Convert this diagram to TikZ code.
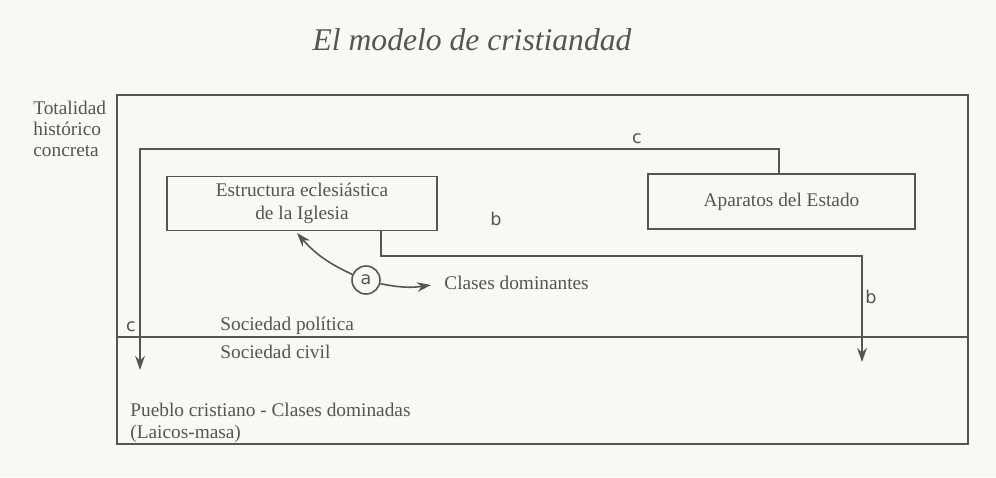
\documentclass[tikz,border=0pt]{standalone}
\usepackage{fontspec}
\setmainfont{Liberation Serif}
\newfontfamily\letterfont{DejaVu Sans}
\usetikzlibrary{arrows.meta}
\definecolor{ink}{RGB}{85,85,85}
\definecolor{paper}{RGB}{248,248,245}
\begin{document}
\begin{tikzpicture}[x=0.02cm,y=-0.02cm,
  every node/.style={text=ink},
  line/.style={draw=ink, line width=0.9pt},
  boxnode/.style={line, rectangle, minimum width=270*0.02cm, minimum height=54*0.02cm, align=center, font=\fontsize{11}{13}\selectfont},
  lbl/.style={font=\fontsize{11}{13}\selectfont, anchor=west, align=left, inner sep=0pt},
  letter/.style={font=\letterfont\fontsize{10}{12}\selectfont, inner sep=1pt},
  arr/.style={line, -{Stealth[length=8pt,width=5.5pt]}}]
\fill[paper] (0,0) rectangle (996,477);
\useasboundingbox (0,0) rectangle (996,477);
% title
\node (title) at (472,40) {\fontsize{18}{22}\selectfont\itshape El modelo de cristiandad};
% frame
\draw[line] (117,95) rectangle (968,444);
\coordinate (split w) at (117,337);
\coordinate (split e) at (968,337);
\draw[line] (split w) -- (split e);
\node[lbl, anchor=north west, font=\fontsize{11}{12}\selectfont] (total) at (33,101) {Totalidad\\hist\'orico\\concreta};
% boxes
\node[boxnode] (iglesia) at (302,203.5) {Estructura eclesi\'astica\\de la Iglesia};
\node[boxnode, minimum width=267*0.02cm, minimum height=55*0.02cm] (estado) at (781.5,201.5) {Aparatos del Estado};
% c path
\coordinate (c1) at (779,149);
\coordinate (c2) at (140,149);
\coordinate (c3) at (140,370);
\draw[arr] (estado.north -| c1) -- (c1) -- (c2) -- (c3);
\node[letter] (cup) at (637,139) {c};
\node[letter] (cdown) at (131,327) {c};
% b path
\coordinate (b0) at (381,230);
\coordinate (b1) at (381,256);
\coordinate (b2) at (862,256);
\coordinate (b3) at (862,362);
\draw[arr] (b0) -- (b1) -- (b2) -- (b3);
\node[letter] (bup) at (496,219) {b};
\node[letter] (bdown) at (871,297) {b};
% a
\node[line, circle, minimum size=28*0.02cm, inner sep=0pt, letter] (a) at (366,280) {a};
\coordinate (apoint) at (297,233);
\coordinate (aend) at (431,285);
\draw[arr] (a) to[bend left=12] (apoint);
\node[lbl] (dominantes) at (444,283) {Clases dominantes};
\draw[arr] (a) to[bend right=10] (aend);
% lower labels
\node[lbl] (politica) at (220,326) {Sociedad pol\'itica};
\node[lbl] (civil) at (220,352) {Sociedad civil};
\node[lbl, anchor=north west, font=\fontsize{11}{12.5}\selectfont] (pueblo) at (130,403) {Pueblo cristiano - Clases dominadas\\(Laicos-masa)};
\end{tikzpicture}
\end{document}
